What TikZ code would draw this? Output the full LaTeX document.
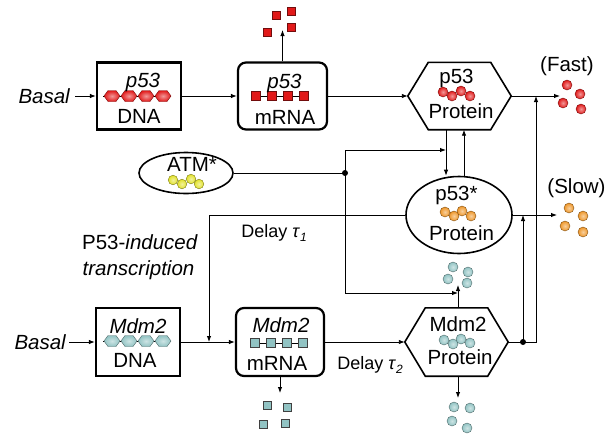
\documentclass[tikz,border=0pt]{standalone}
\usepackage{fontspec}
\setmainfont{Liberation Sans}
\usetikzlibrary{shapes.geometric,arrows.meta,calc}
\definecolor{pred}{RGB}{225,25,25}
\definecolor{porange}{RGB}{238,150,40}
\definecolor{pyellow}{RGB}{225,225,40}
\definecolor{pteal}{RGB}{145,195,195}
\newcommand\hexof[1]{\draw[hexline] (#1.west) -- ([xshift=20.5pt]#1.north west) -- ([xshift=-20.5pt]#1.north east) -- (#1.east) -- ([xshift=-20.5pt]#1.south east) -- ([xshift=20.5pt]#1.south west) -- cycle;}
\begin{document}
\begin{tikzpicture}[x=1pt,y=-1pt,
  lbl/.style={inner sep=0pt, anchor=base, font=\fontsize{20.5}{24}\selectfont},
  dlbl/.style={inner sep=0pt, anchor=base, font=\fontsize{18}{21}\selectfont},
  genebox/.style={draw, line width=2.2pt, minimum width=84pt, minimum height=67pt, inner sep=0pt},
  rnabox/.style={draw, line width=2.2pt, rounded corners=8pt, inner sep=0pt},
  hexbox/.style={inner sep=0pt, minimum width=103pt, minimum height=67pt},
  hexline/.style={line width=1.6pt, line join=miter},
  ovalbox/.style={draw, ellipse, line width=1.6pt, inner sep=0pt},
  conn/.style={line width=0.9pt},
  arr/.style={conn, -{Latex[length=6pt,width=4.5pt]}},
  jdot/.style={fill=black},
  shball/.style={shading=radial, inner color=#1!45!white, outer color=#1, draw=#1!55!black, line width=0.4pt},
  redsq/.style={fill=pred, draw=pred!50!black, line width=0.5pt},
  tesq/.style={fill=pteal, draw=black!75, line width=0.8pt},
]
\fill[white] (0,0) rectangle (608,437);
\useasboundingbox (0,0) rectangle (608,437);

% ---------- top row ----------
\node[genebox] (dna1) at (139,96) {};
\node[rnabox, minimum width=89pt, minimum height=67pt] (mrna1) at (282.5,96) {};
\node[hexbox] (prot1) at (459.5,96) {};
\hexof{prot1}
\node[lbl, anchor=east] (basal1) at (70,96) {\itshape Basal};

% p53 DNA beads
\draw[conn] (103,96) -- (171,96);
\foreach \x in {112,129,146,163}
  \shadedraw[shball=pred] (\x-8,96) -- (\x-4,90.5) -- (\x+4,90.5) -- (\x+8,96) -- (\x+4,101.5) -- (\x-4,101.5) -- cycle;
\node[lbl] (t1) at (143,87) {\itshape p53};
\node[lbl] (t2) at (139,123) {DNA};

% p53 mRNA squares
\draw[conn] (252,96) -- (308,96);
\foreach \x in {256,272,288,304}
  \filldraw[redsq] (\x-4.5,91.5) rectangle (\x+4.5,100.5);
\node[lbl] (t3) at (284.5,88) {\itshape p53};
\node[lbl] (t4) at (285,124) {mRNA};

% p53 protein
\node[lbl] (t5) at (456.5,83) {p53};
\foreach \x/\y in {443/92,452/96,461/91,470/96}
  \shadedraw[shball=pred] (\x,\y) circle[radius=5pt];
\node[lbl] (t6) at (461,118) {Protein};

% degradation of p53 mRNA
\coordinate (deg1) at (282.5,30);
\foreach \x/\y in {267/32,276/15,291/11,291/27}
  \filldraw[redsq] (\x-4,\y-4) rectangle (\x+4,\y+4);

% fast
\node[lbl] (fast) at (567,71) {(Fast)};
\coordinate (fastend) at (560,96);
\foreach \x/\y in {567/85,580/94,563/103,581/109}
  \shadedraw[shball=pred] (\x,\y) circle[radius=5pt];

% ---------- middle ----------
\node[ovalbox, minimum width=94pt, minimum height=41pt] (atm) at (186,173) {};
\node[lbl] (t7) at (192,171) {ATM*};
\foreach \x/\y in {173/180,182/184,191/179,199/184}
  \shadedraw[shball=pyellow] (\x,\y) circle[radius=4.8pt];

\node[ovalbox, minimum width=106pt, minimum height=77pt] (p53s) at (459,215) {};
\node[lbl] (t8) at (456.5,200) {p53*};
\foreach \x/\y in {445/212,454/216,462/211,471/216}
  \shadedraw[shball=porange] (\x,\y) circle[radius=5pt];
\node[lbl] (t9) at (461.5,240) {Protein};

\node[lbl] (slow) at (576.5,193) {(Slow)};
\coordinate (slowend) at (557,215);
\foreach \x/\y in {569/208,583/216,565/226,583/232}
  \shadedraw[shball=porange] (\x,\y) circle[radius=5pt];

\node[dlbl] (delay1) at (274,237) {Delay \textit{τ}\raisebox{-0.25em}{\fontsize{12}{12}\selectfont\itshape 1}};
\node[lbl] (pit1) at (140,249) {P53-\textit{induced}};
\node[lbl] (pit2) at (138.5,275) {\textit{transcription}};

% ---------- bottom row ----------
\node[genebox, minimum height=68pt] (dna2) at (138,342) {};
\node[rnabox, minimum width=88pt, minimum height=68pt] (mrna2) at (280,342) {};
\node[hexbox, minimum height=68pt] (prot2) at (456.5,342) {};
\hexof{prot2}
\node[lbl, anchor=east] (basal2) at (66,342) {\itshape Basal};

\draw[conn] (103,341) -- (171,341);
\foreach \x in {112,129,146,163}
  \shadedraw[shball=pteal] (\x-8,341) -- (\x-4,335.5) -- (\x+4,335.5) -- (\x+8,341) -- (\x+4,346.5) -- (\x-4,346.5) -- cycle;
\node[lbl] (t10) at (138,333) {\itshape Mdm2};
\node[lbl] (t11) at (135,367) {DNA};

\draw[conn] (251,343) -- (307,343);
\foreach \x in {255,271,287,303}
  \filldraw[tesq] (\x-4.5,338.5) rectangle (\x+4.5,347.5);
\node[lbl] (t12) at (281,332) {\itshape Mdm2};
\node[lbl] (t13) at (277,370) {mRNA};

\node[lbl] (t14) at (458,331) {Mdm2};
\foreach \x/\y in {444/340,453/344,461/339,470/343}
  \shadedraw[shball=pteal] (\x,\y) circle[radius=5pt];
\node[lbl] (t15) at (460,364) {Protein};

\node[dlbl] (delay2) at (370,369) {Delay \textit{τ}\raisebox{-0.25em}{\fontsize{12}{12}\selectfont\itshape 2}};

% degradation squares under Mdm2 mRNA
\coordinate (deg2) at (280,393);
\foreach \x/\y in {267/405,287/407,263/424,285/423}
  \filldraw[tesq] (\x-4,\y-4) rectangle (\x+4,\y+4);
% degradation balls above and below Mdm2 protein
\coordinate (deg3) at (458,285);
\foreach \x/\y in {453/267,468/272,448/279,467/283}
  \shadedraw[shball=pteal] (\x,\y) circle[radius=5pt];
\coordinate (deg4) at (458,398);
\foreach \x/\y in {454/407,470/408,452/421,467/428}
  \shadedraw[shball=pteal] (\x,\y) circle[radius=5pt];

% ---------- junctions ----------
\coordinate (d1) at (345,173);
\coordinate (j2) at (446,150);
\coordinate (u1) at (464,150);
\coordinate (j3) at (458,293);
\coordinate (j1) at (209,342);
\coordinate (d2) at (523,342);
\coordinate (j4) at (536,96);

% ---------- connectors ----------
\draw[arr] ([xshift=5pt]basal1.east) -- (dna1.west);
\draw[arr] (dna1.east) -- (mrna1.west);
\draw[arr] (mrna1.north) -- (deg1);
\draw[arr] (mrna1.east) -- (prot1.west);
\draw[arr] (prot1.east) -- (fastend);
\draw[arr] (j2 |- prot1.south) -- (j2 |- p53s.north);
\draw[arr] (u1 |- p53s.north) -- (u1 |- prot1.south);
\draw[conn] (atm.east) -- (d1);
\draw[arr] (d1) |- (j2);
\draw[arr] (d1) |- (j3);
\draw[arr] (p53s.east) -- (slowend);
\draw[arr] (p53s.west) -| (j1);

\draw[arr] ([xshift=3pt]basal2.east) -- (dna2.west);
\draw[arr] (dna2.east) -- (mrna2.west);
\draw[arr] (mrna2.south) -- (deg2);
\draw[arr] (mrna2.east) -- (prot2.west);
\draw[arr] (deg3 |- prot2.north) -- (deg3);
\draw[arr] (deg4 |- prot2.south) -- (deg4);
\draw[arr] (prot2.east) -| (j4);
\draw[arr] (d2) -- (d2 |- p53s.east);
\fill[jdot] (d1) circle[radius=3pt];
\fill[jdot] (d2) circle[radius=3pt];
\end{tikzpicture}
\end{document}
